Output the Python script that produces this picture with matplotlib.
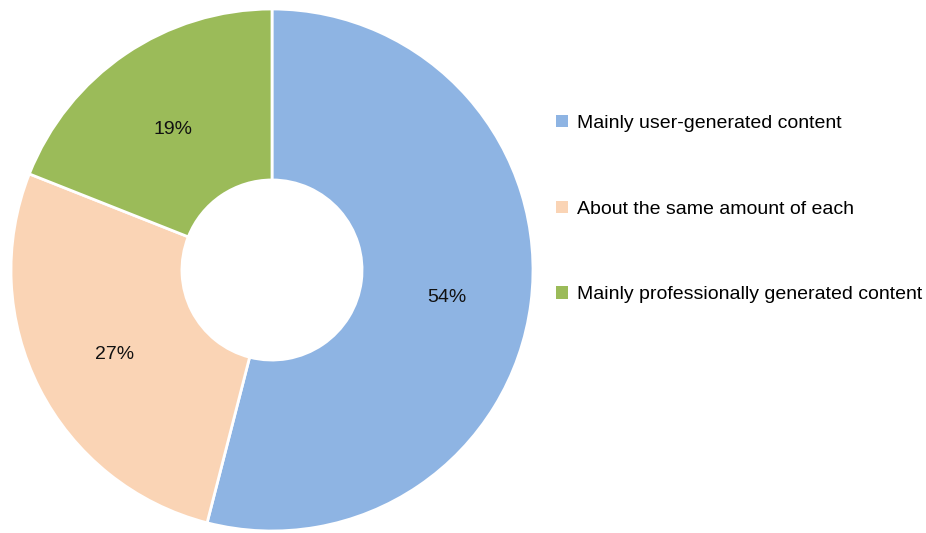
import matplotlib
matplotlib.use("Agg")
import matplotlib.pyplot as plt
from matplotlib.patches import Patch

categories = ["Mainly user-generated content",
              "About the same amount of each",
              "Mainly professionally generated content"]
shares = [54, 27, 19]
colors = ["#8EB4E3", "#FAD4B5", "#9BBB59"]

plt.rcParams['font.family'] = ['Liberation Sans', 'DejaVu Sans']

W, H, DPI = 926, 533, 100
fig = plt.figure(figsize=(W / DPI, H / DPI), dpi=DPI)
ax = fig.add_axes([0, 0, 1, 1])

wedges, texts, autotexts = ax.pie(
    shares, colors=colors, startangle=90, counterclock=False,
    radius=1.0, autopct=lambda p: f"{p:.0f}%", pctdistance=0.675,
    wedgeprops=dict(width=0.655, edgecolor='white', linewidth=2),
    textprops=dict(fontsize=14, color='#111111'))

# pie centre and radius in pixels
cx, cy, R = 272, 263, 261
ax.set_xlim(-cx / R, (W - cx) / R)
ax.set_ylim(-cy / R, (H - cy) / R)
ax.set_aspect('equal')
ax.axis('off')

# nudge percentage labels so the digits sit on the ring's mid-line
for t in autotexts:
    x, y = t.get_position()
    t.set_position((x, y - 5 / R))

handles = [Patch(facecolor=c, edgecolor='none') for c in colors]
leg = fig.legend(handles, categories, loc='upper left',
                 bbox_to_anchor=(556 / W, 1 - 115 / H),
                 frameon=False, fontsize=14, handlelength=0.6,
                 handleheight=0.6, handletextpad=0.5, labelspacing=3.53,
                 borderaxespad=0, borderpad=0)

fig.savefig("out.png", dpi=DPI)
